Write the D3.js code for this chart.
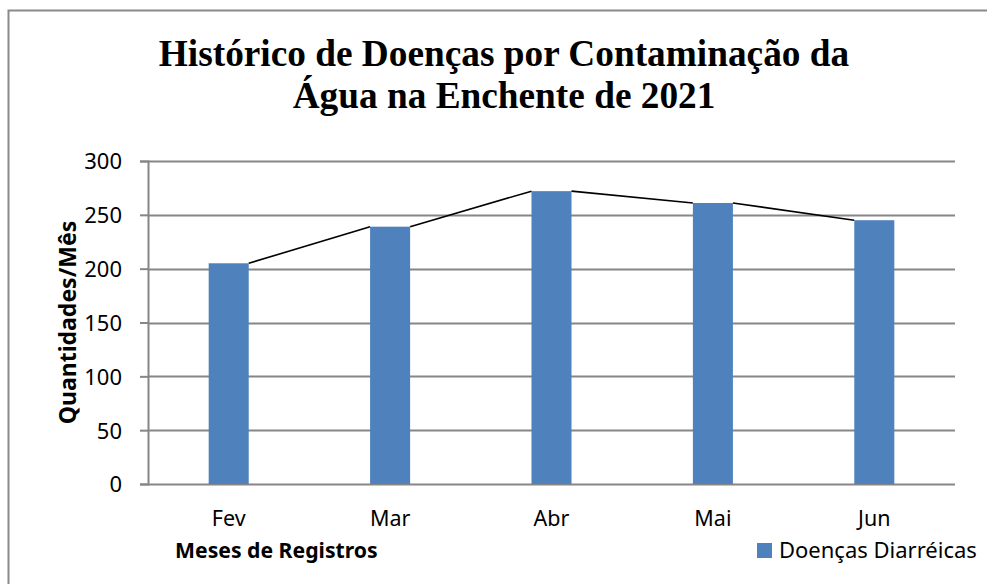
<!DOCTYPE html>
<html lang="pt">
<head>
  <meta charset="UTF-8">
  <title>Histórico de Doenças</title>
  <script src="https://d3js.org/d3.v7.min.js"></script>
  <style>
    html, body { margin: 0; padding: 0; background: #fff; }
    svg { display: block; }
  </style>
</head>
<body>
  <svg id="chart" width="987" height="584"></svg>
  <script>
    // Data
    const months = ["Fev", "Mar", "Abr", "Mai", "Jun"];
    const diarrheaCases = [205, 239, 272, 261, 245];
    const yTicks = [0, 50, 100, 150, 200, 250, 300];
    const titleLines = ["Histórico de Doenças por Contaminação da", "Água na Enchente de 2021"];
    const seriesName = "Doenças Diarréicas";

    const svg = d3.select("#chart");
    const plot = { left: 148, right: 955, top: 161, bottom: 484 };
    const barColor = "#4F81BD";
    const gridColor = "#868686";
    const sans = "'Noto Sans', Arial, sans-serif";

    // outer frame
    svg.append("rect")
      .attr("x", 8.5).attr("y", 10.5)
      .attr("width", 1000).attr("height", 600)
      .attr("fill", "none")
      .attr("stroke", "#8a8a8a")
      .attr("stroke-width", 2);

    // title
    svg.append("text")
      .attr("text-anchor", "middle")
      .attr("font-family", "'Liberation Serif', 'Times New Roman', serif")
      .attr("font-weight", "bold")
      .attr("font-size", 37.3)
      .selectAll("tspan")
      .data(titleLines)
      .enter().append("tspan")
      .attr("x", 504)
      .attr("y", (d, i) => 66 + i * 42)
      .text(d => d);

    const x = d3.scaleBand().domain(months).range([plot.left, plot.right]).paddingInner(0).paddingOuter(0);
    const y = d3.scaleLinear().domain([0, 300]).range([plot.bottom, plot.top]);
    const barW = x.bandwidth() * 0.248;

    // y axis + gridlines
    const yAxis = d3.axisLeft(y).tickValues(yTicks).tickSize(8).tickPadding(18);
    const gy = svg.append("g").attr("transform", `translate(${plot.left},0)`).call(yAxis);
    gy.select(".domain").attr("stroke", gridColor).attr("stroke-width", 2);
    gy.selectAll(".tick line").attr("stroke", gridColor).attr("stroke-width", 2);
    gy.selectAll(".tick text")
      .attr("font-family", sans).attr("font-size", 22).attr("fill", "#000")
      .attr("dy", "0.36em");

    svg.append("g").selectAll("line")
      .data(yTicks)
      .enter().append("line")
      .attr("x1", plot.left).attr("x2", plot.right)
      .attr("y1", d => Math.round(y(d)) + 0.5).attr("y2", d => Math.round(y(d)) + 0.5)
      .attr("stroke", gridColor)
      .attr("stroke-width", 2);

    // bars
    svg.append("g").selectAll("rect")
      .data(months)
      .enter().append("rect")
      .attr("x", d => x(d) + x.bandwidth() / 2 - barW / 2)
      .attr("y", (d, i) => y(diarrheaCases[i]))
      .attr("width", barW)
      .attr("height", (d, i) => y(0) - y(diarrheaCases[i]))
      .attr("fill", barColor);

    // series lines: top right of one bar to top left of the next
    const segs = d3.pairs(months.map((m, i) => ({ m, v: diarrheaCases[i] })));
    svg.append("g").selectAll("line")
      .data(segs)
      .enter().append("line")
      .attr("x1", d => x(d[0].m) + x.bandwidth() / 2 + barW / 2)
      .attr("y1", d => y(d[0].v))
      .attr("x2", d => x(d[1].m) + x.bandwidth() / 2 - barW / 2)
      .attr("y2", d => y(d[1].v))
      .attr("stroke", "#000")
      .attr("stroke-width", 1.6);

    // x axis labels
    const gx = svg.append("g").attr("transform", `translate(0,${plot.bottom})`)
      .call(d3.axisBottom(x).tickSize(0).tickPadding(27));
    gx.select(".domain").remove();
    gx.selectAll(".tick text")
      .attr("font-family", sans).attr("font-size", 21.5).attr("fill", "#000");

    // axis titles
    svg.append("text")
      .attr("x", 175).attr("y", 558)
      .attr("font-family", sans)
      .attr("font-weight", "bold")
      .attr("font-size", 21.2)
      .text("Meses de Registros");

    svg.append("text")
      .attr("transform", `translate(76,${(plot.top + plot.bottom) / 2}) rotate(-90)`)
      .attr("text-anchor", "middle")
      .attr("font-family", sans)
      .attr("font-weight", "bold")
      .attr("font-size", 23)
      .text("Quantidades/Mês");

    // legend
    const legend = svg.append("g").attr("transform", "translate(757,543)");
    legend.append("rect").attr("width", 15).attr("height", 15).attr("fill", barColor);
    legend.append("text")
      .attr("x", 22).attr("y", 15)
      .attr("font-family", sans)
      .attr("font-size", 22)
      .text(seriesName);
  </script>
</body>
</html>
